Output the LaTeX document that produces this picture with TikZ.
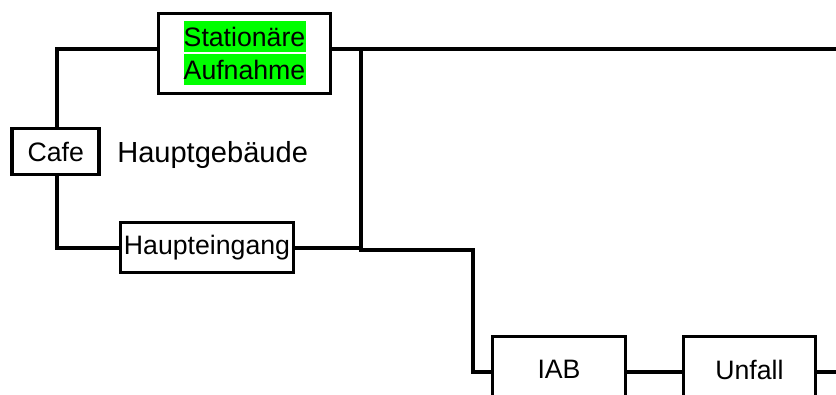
\documentclass[tikz,border=0pt]{standalone}
\usepackage{fontspec}
\setmainfont{Liberation Sans}
\usepackage{xcolor}
\usepackage{tikz}
\definecolor{hlgreen}{RGB}{0,255,0}
\newcommand{\hlline}[1]{\hbox{\colorbox{hlgreen}{\parbox[c][23.25pt][c]{91.5pt}{\centering #1}}}}

\begin{document}
\begin{tikzpicture}[x=0.75pt, y=-0.75pt,
		wire/.style={line width=2.9pt, line cap=rect},
		room/.style={draw, line width=2.7pt, inner sep=0pt, fill=white,
			font=\fontsize{20}{23}\selectfont}]
		
		\useasboundingbox (0,0) rectangle (836,395);
		\clip (0,0) rectangle (836,395);
		
		% rooms
		\node[room, minimum width=129pt, minimum height=60pt] (stat) at (244.5,53.5)
			{\fboxsep=0pt\vbox{\offinterlineskip\hlline{Stationäre}\vskip1.5pt\hlline{Aufnahme}}};
		\node[room, minimum width=65.25pt, minimum height=34.5pt] (cafe) at (55.75,151.5) {Cafe};
		\node[room, minimum width=129.75pt, minimum height=37.5pt] (haupt) at (207,247.5) {Haupteingang};
		\node[room, minimum width=99.75pt, minimum height=49.5pt] (iab) at (559,369.5) {IAB};
		\node[room, minimum width=99pt, minimum height=49.5pt] (unfall) at (749.5,369.5) {Unfall};
		
		% building name
		\node[anchor=west, inner sep=0pt, font=\fontsize{21.8}{25}\selectfont] (gebaeude) at (117,155) {Hauptgebäude};
		
		% corners of the corridors
		\coordinate (topleft) at (57,49);
		\coordinate (botleft) at (57,248);
		\coordinate (jtop) at (361,49);
		\coordinate (jbot) at (361,250);
		\coordinate (jdown) at (473,250);
		\coordinate (jiab) at (473,372);
		\coordinate (exitright) at (836,49);
		\coordinate (exitunfall) at (836,372);
		
		% corridors
		\draw[wire] (cafe.north -| topleft) -- (topleft) -- (topleft -| stat.west);
		\draw[wire] (cafe.south -| botleft) -- (botleft) -- (botleft -| haupt.west);
		\draw[wire] (topleft -| stat.east) -- (exitright);
		\draw[wire] (botleft -| haupt.east) -- (botleft -| jtop);
		\draw[wire] (jtop) -- (jbot) -- (jdown) -- (jiab) -- (jiab -| iab.west);
		\draw[wire] (jiab -| iab.east) -- (jiab -| unfall.west);
		\draw[wire] (jiab -| unfall.east) -- (exitunfall);
		
	\end{tikzpicture}
\end{document}
